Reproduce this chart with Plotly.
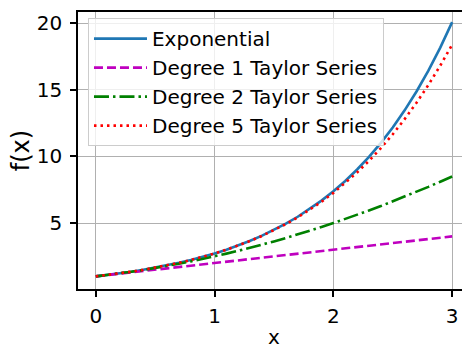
import plotly.graph_objects as go

x_vals = [0.0, 0.1, 0.2, 0.3, 0.4, 0.5, 0.6, 0.7, 0.8, 0.9, 1.0, 1.1, 1.2, 1.3, 1.4, 1.5,
          1.6, 1.7, 1.8, 1.9, 2.0, 2.1, 2.2, 2.3, 2.4, 2.5, 2.6, 2.7, 2.8, 2.9, 3.0]
exp_vals = [1.000, 1.105, 1.221, 1.350, 1.492, 1.649, 1.822, 2.014, 2.226, 2.460, 2.718,
            3.004, 3.320, 3.669, 4.055, 4.482, 4.953, 5.474, 6.050, 6.686, 7.389,
            8.166, 9.025, 9.974, 11.023, 12.182, 13.464, 14.880, 16.445, 18.174, 20.086]
deg1_vals = [1.0, 1.1, 1.2, 1.3, 1.4, 1.5, 1.6, 1.7, 1.8, 1.9, 2.0, 2.1, 2.2, 2.3, 2.4, 2.5,
             2.6, 2.7, 2.8, 2.9, 3.0, 3.1, 3.2, 3.3, 3.4, 3.5, 3.6, 3.7, 3.8, 3.9, 4.0]
deg2_vals = [1.0, 1.105, 1.22, 1.345, 1.48, 1.625, 1.78, 1.945, 2.12, 2.305, 2.5,
             2.705, 2.92, 3.145, 3.38, 3.625, 3.88, 4.145, 4.42, 4.705, 5.0,
             5.305, 5.62, 5.945, 6.28, 6.625, 6.98, 7.345, 7.72, 8.105, 8.5]
deg5_vals = [1.0, 1.105, 1.221, 1.350, 1.492, 1.649, 1.822, 2.014, 2.225, 2.459, 2.717,
             3.001, 3.315, 3.661, 4.042, 4.462, 4.923, 5.430, 5.987, 6.598, 7.267,
             7.999, 8.800, 9.675, 10.630, 11.671, 12.804, 14.036, 15.373, 16.825, 18.4]
series_names = ["Exponential", "Degree 1 Taylor Series", "Degree 2 Taylor Series", "Degree 5 Taylor Series"]
x_ticks = [0, 1, 2, 3]
y_ticks = [5, 10, 15, 20]
x_title = "x"
y_title = "f(x)"

FONT = "DejaVu Sans"
FS = 20

fig = go.Figure()
styles = [
    ("#1f77b4", "solid", exp_vals),
    ("#bf00bf", "9px,4px", deg1_vals),
    ("#008000", "15px,4px,2.5px,4px", deg2_vals),
    ("#ff0000", "2.5px,4px", deg5_vals),
]
for name, (color, dash, ys) in zip(series_names, styles):
    fig.add_trace(go.Scatter(x=x_vals, y=ys, mode="lines", name=name,
                             line=dict(color=color, dash=dash, width=2.6)))

fig.update_layout(
    width=462, height=345,
    margin=dict(l=78, r=0, t=12, b=56, autoexpand=False),
    plot_bgcolor="white", paper_bgcolor="white",
    font=dict(family=FONT, size=FS, color="black"),
    showlegend=True,
    legend=dict(x=0.026, y=0.978, xanchor="left", yanchor="top",
                bgcolor="rgba(255,255,255,0.8)", bordercolor="#cccccc", borderwidth=1,
                font=dict(family=FONT, size=FS), itemwidth=53, tracegroupgap=0),
)
fig.add_annotation(text=x_title, xref="x", x=1.5, yref="paper", y=0, yanchor="top",
                   xanchor="center", yshift=-34, showarrow=False,
                   font=dict(family=FONT, size=FS, color="black"))
fig.update_xaxes(range=[-0.15, 3.083], tickvals=x_ticks, showgrid=True, gridcolor="#b0b0b0",
                 gridwidth=1, zeroline=False, showline=True, linecolor="black", linewidth=1.5,
                 mirror=True, ticks="outside", ticklen=6, tickwidth=1.5, tickcolor="black",
                 automargin=False, ticklabelstandoff=2)
fig.update_yaxes(range=[0.05, 20.85], tickvals=y_ticks, showgrid=True, gridcolor="#b0b0b0",
                 gridwidth=1, zeroline=False, showline=True, linecolor="black", linewidth=1.5,
                 ticks="outside", ticklen=6, tickwidth=1.5, tickcolor="black",
                 automargin=False,
                 title=dict(text=y_title, standoff=0), ticklabelstandoff=4)

fig.write_html("out.html", config={"displayModeBar": False},
               post_script="document.body.style.margin='0px';")
